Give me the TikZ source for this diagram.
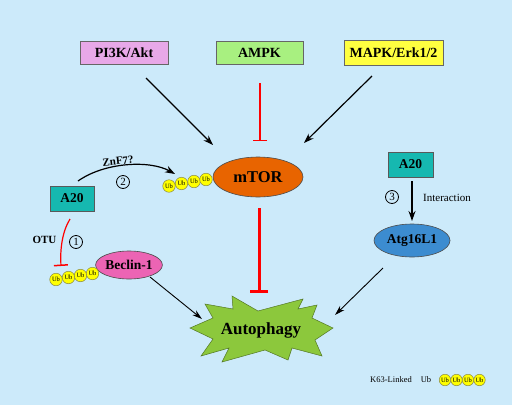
\documentclass[tikz,border=0pt]{standalone}
\usepackage{fontspec}
\setmainfont{Liberation Serif}
\usetikzlibrary{arrows.meta,shapes.geometric}
\definecolor{bgblue}{RGB}{204,234,250}
\definecolor{pipink}{RGB}{232,168,232}
\definecolor{ampkgreen}{RGB}{168,240,128}
\definecolor{mapkyellow}{RGB}{255,255,64}
\definecolor{mtororange}{RGB}{232,100,0}
\definecolor{teal20}{RGB}{22,184,176}
\definecolor{beclinpink}{RGB}{236,100,180}
\definecolor{atgblue}{RGB}{60,140,208}
\definecolor{autogreen}{RGB}{140,200,60}
\definecolor{ubyellow}{RGB}{255,255,0}
\definecolor{ubedge}{RGB}{140,140,70}
\definecolor{inhred}{RGB}{255,0,0}
\tikzset{
  topbox/.style={draw=gray!80!black, line width=0.6pt, minimum height=23pt, inner sep=0pt, font=\fontsize{14}{14}\selectfont\bfseries},
  a20box/.style={draw=gray!70!black, fill=teal20, line width=0.6pt, minimum width=44pt, minimum height=25pt, inner sep=0pt, font=\fontsize{13.5}{13.5}\selectfont\bfseries},
  oval/.style={ellipse, draw=gray!60!black, line width=0.6pt, inner sep=0pt},
  ub/.style={circle, draw=ubedge, fill=ubyellow, line width=0.5pt, minimum size=12.5pt, inner sep=0pt, font=\fontsize{6.5}{6.5}\selectfont},
  ubs/.style={ub, minimum size=11.5pt},
  act/.style={line width=1.2pt, -{Stealth[length=10pt,width=7pt]}},
  thinact/.style={line width=0.9pt, -{Stealth[length=10pt,width=6pt]}},
  inh/.style={draw=inhred, line width=1.2pt, -{Bar[width=14pt,line width=1.5pt]}},
  biginh/.style={draw=inhred, line width=3pt, -{Bar[width=18pt,line width=3pt]}},
  num/.style={circle, draw=black, line width=0.8pt, minimum size=13pt, inner sep=0pt, font=\fontsize{11}{11}\selectfont},
  lab/.style={font=\fontsize{11}{11}\selectfont\bfseries, inner sep=0pt},
}
\begin{document}
\begin{tikzpicture}[x=1pt,y=-1pt]
\useasboundingbox (0,0) rectangle (512,405);
\fill[bgblue] (0,0) rectangle (512,405);

% top boxes
\node[topbox, fill=pipink, minimum width=88pt] (pi3k) at (124,52.5) {PI3K/Akt};
\node[topbox, fill=ampkgreen, minimum width=87pt] (ampk) at (259.5,52.5) {AMPK};
\node[topbox, fill=mapkyellow, minimum width=99pt, minimum height=25pt] (mapk) at (393.5,52.5) {MAPK/Erk1/2};

% mTOR
\node[oval, fill=mtororange, minimum width=90pt, minimum height=40pt, font=\fontsize{16.5}{16.5}\selectfont\bfseries] (mtor) at (258,177) {mTOR};

% Ub chain at mTOR
\node[ub] (u1) at (169,186) {Ub};
\node[ub] (u2) at (181.5,183.5) {Ub};
\node[ub] (u3) at (194,181.5) {Ub};
\node[ub] (u4) at (206,179.5) {Ub};

% A20 left
\node[a20box] (a20l) at (72,198.5) {A20};

% Beclin-1
\node[oval, fill=beclinpink, minimum width=66pt, minimum height=28pt, font=\fontsize{13.5}{13.5}\selectfont\bfseries] (beclin) at (129,265) {Beclin-1};
\node[ub] (b1) at (56,279.5) {Ub};
\node[ub] (b2) at (68.5,277.5) {Ub};
\node[ub] (b3) at (80.5,275.5) {Ub};
\node[ub] (b4) at (92.5,273.5) {Ub};

% A20 right and Atg16L1
\node[a20box, minimum width=45pt] (a20r) at (410.5,164.5) {A20};
\node[oval, fill=atgblue, minimum width=76pt, minimum height=33pt, font=\fontsize{13.5}{13.5}\selectfont\bfseries] (atg) at (412,240.5) {Atg16L1};

% Autophagy starburst
\fill[autogreen, draw=autogreen!60!black, line width=0.5pt]
 (232,296) -- (258,311) -- (303,299) -- (298,309) -- (317,305) -- (312,318)
 -- (333,328) -- (315,340) -- (322,356) -- (292,348) -- (288,360) -- (265,350)
 -- (222,362) -- (229,348) -- (201,356) -- (213,339) -- (190,328) -- (213,318)
 -- (205,304) -- (233,309) -- cycle;
\node[font=\fontsize{17}{17}\selectfont\bfseries, inner sep=0pt] (auto) at (261,330) {Autophagy};

% arrows from top
\coordinate (piS) at (146,78);
\coordinate (piE) at (213,145);
\draw[act] (piS) -- (piE);
\coordinate (mkS) at (372,76);
\coordinate (mkE) at (304,143);
\draw[act] (mkS) -- (mkE);
\coordinate (amS) at (260,83);
\coordinate (amE) at (260,141);
\draw[inh] (amS) -- (amE);

% mTOR -| autophagy
\coordinate (mtS) at (259,208);
\coordinate (mtE) at (259,293);
\draw[biginh] (mtS) -- (mtE);

% A20 -> Ub chain (ZnF7?)
\coordinate (a20top) at (78,181);
\coordinate (ubtip) at (175,174);
\draw[act] (a20top) .. controls (105,162) and (150,160) .. (ubtip);
\node[lab, rotate=6] at (118,161) {ZnF7?};
\node[num] at (123,182) {2};

% A20 -| Ub (OTU)
\coordinate (otuS) at (70,219);
\coordinate (otuE) at (61,266);
\draw[inh] (otuS) .. controls (62,232) and (60,250) .. (otuE);
\node[lab] at (44.5,240) {OTU};
\node[num] at (76,242) {1};

% Beclin -> autophagy
\coordinate (bcS) at (150,277);
\coordinate (bcE) at (202,319);
\draw[thinact] (bcS) -- (bcE);

% A20 -> Atg16L1
\coordinate (arS) at (412,181);
\coordinate (arE) at (412,221);
\draw[act] (arS) -- (arE);
\node[num] at (392,197) {3};
\node[font=\fontsize{11}{11}\selectfont, inner sep=0pt] at (447,198) {Interaction};

% Atg16L1 -> autophagy
\coordinate (atS) at (383,268);
\coordinate (atE) at (335,315);
\draw[thinact] (atS) -- (atE);

% legend
\node[font=\fontsize{8.5}{8.5}\selectfont, inner sep=0pt] at (391,379.5) {K63-Linked};
\node[font=\fontsize{8.5}{8.5}\selectfont, inner sep=0pt] at (426,379.5) {Ub};
\node[ubs] (l1) at (445,380) {Ub};
\node[ubs] (l2) at (456.5,380) {Ub};
\node[ubs] (l3) at (468,380) {Ub};
\node[ubs] (l4) at (479.5,380) {Ub};
\end{tikzpicture}
\end{document}
